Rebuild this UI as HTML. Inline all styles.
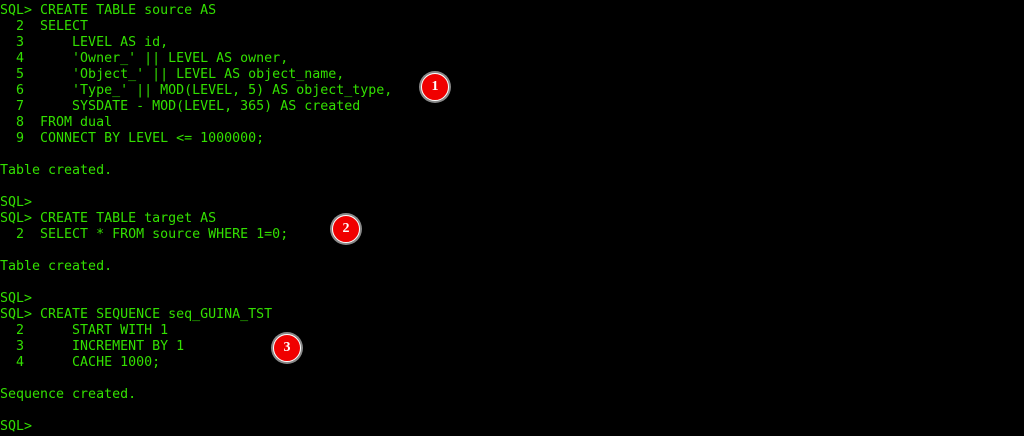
<!DOCTYPE html>
<html><head><meta charset="utf-8"><style>
html,body{margin:0;padding:0;background:#000;width:1024px;height:436px;overflow:hidden;position:relative}
pre{margin:0;position:absolute;left:0;top:3px;font-family:"DejaVu Sans Mono","Liberation Mono",monospace;font-size:13.3px;line-height:16px;color:#33e000;white-space:pre}
.c{position:absolute;width:26px;height:26px;border-radius:50%;background:#f00000;border:1.5px solid #fff;box-shadow:0 0 0 2px #888;color:#fff;font:bold 14px "Liberation Serif",serif;text-align:center;line-height:26px}
</style></head><body>
<pre>SQL&gt; CREATE TABLE source AS
  2  SELECT
  3      LEVEL AS id,
  4      'Owner_' || LEVEL AS owner,
  5      'Object_' || LEVEL AS object_name,
  6      'Type_' || MOD(LEVEL, 5) AS object_type,
  7      SYSDATE - MOD(LEVEL, 365) AS created
  8  FROM dual
  9  CONNECT BY LEVEL &lt;= 1000000;

Table created.

SQL&gt;
SQL&gt; CREATE TABLE target AS
  2  SELECT * FROM source WHERE 1=0;

Table created.

SQL&gt;
SQL&gt; CREATE SEQUENCE seq_GUINA_TST
  2      START WITH 1
  3      INCREMENT BY 1
  4      CACHE 1000;

Sequence created.

SQL&gt;</pre>
<div class="c" style="left:421px;top:73px">1</div>
<div class="c" style="left:332px;top:215px">2</div>
<div class="c" style="left:273px;top:334px">3</div>
</body></html>
